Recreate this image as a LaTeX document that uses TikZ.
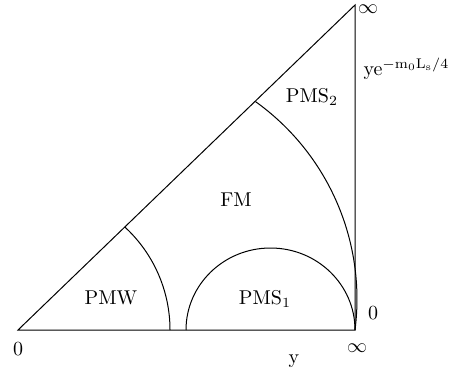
\documentclass[tikz,border=0pt]{standalone}
\begin{document}
\begin{tikzpicture}[x=0.5pt,y=-0.5pt,line width=0.5pt]
\useasboundingbox (0,0) rectangle (453,379);
\coordinate (O) at (18,330);
\coordinate (R) at (355,330);
\coordinate (T) at (355,5);
\draw (O) -- (R) -- (T) -- cycle;

\coordinate (w) at (170,330);
\coordinate (s) at (186,330);
\draw (w) arc[start angle=0, end angle=-47.4, radius=140];
\draw (s) arc[start angle=180, end angle=360, x radius=84.5, y radius=82];
\draw (R) arc[start angle=7.3, end angle=-54.4, radius=243];

\node (pmw) at (111,298) {PMW};
\node (pms1) at (265,299) {PMS$_1$};
\node (fm) at (236,200) {FM};
\node (pms2) at (312,97) {PMS$_2$};
\node[anchor=base west, inner sep=0] (ye) at (363,76) {ye$^{-\mathrm{m_0L_s}/4}$};
\node[anchor=north, inner sep=0] (inftop) at (368,4) {$\infty$};
\node (zeroR) at (373,313) {0};
\node (infbot) at (357,348) {$\infty$};
\node (y) at (294,361) {y};
\node (zeroL) at (18,349) {0};
\end{tikzpicture}
\end{document}
